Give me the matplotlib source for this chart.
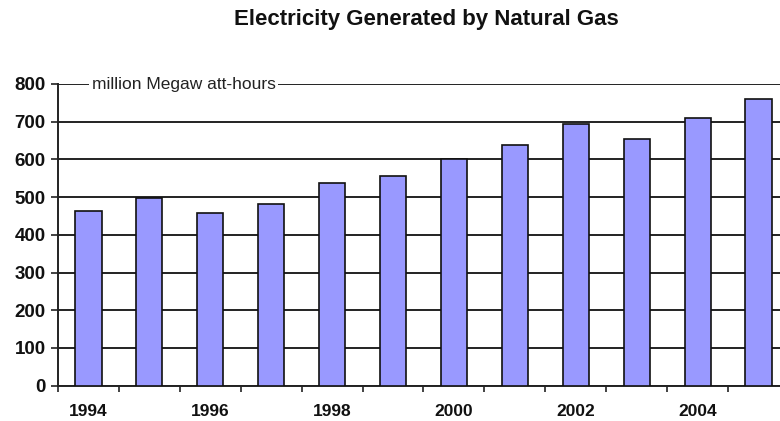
import matplotlib
matplotlib.use("Agg")
import matplotlib.pyplot as plt
import numpy as np

years = [1994, 1995, 1996, 1997, 1998, 1999, 2000, 2001, 2002, 2003, 2004, 2005]
values = [463, 498, 459, 481, 537, 556, 601, 639, 694, 654, 710, 761]
yticks = [0, 100, 200, 300, 400, 500, 600, 700, 800]
title = "Electricity Generated by Natural Gas"
unit_label = "million Megaw att-hours"

plt.rcParams['font.family'] = ['Liberation Sans', 'DejaVu Sans']

fig = plt.figure(figsize=(7.8, 4.21), dpi=100)
ax = fig.add_axes([58/780, 1-385.7/421, (789-58)/780, (385.7-84)/421])

x = np.arange(len(years))
ax.bar(x, values, width=0.43, color='#9999FF', edgecolor='#111111', linewidth=1.2, zorder=3)

ax.set_xlim(-0.5, len(years) - 0.5)
ax.set_ylim(0, 800)
ax.set_yticks(yticks)
ax.set_yticklabels([str(v) for v in yticks], fontsize=13.5, fontweight='bold', color='#111111')
ax.yaxis.grid(True, color='#222222', linewidth=1.4, zorder=0)
ax.set_axisbelow(True)

# x ticks at category boundaries, labels every other year at bar centers
ax.set_xticks(np.arange(len(years) + 1) - 0.5)
ax.set_xticklabels([])
ax.set_xticks(x[::2], minor=True)
ax.set_xticklabels([str(y) for y in years[::2]], minor=True, fontsize=12.5, fontweight='bold', color='#111111')
ax.tick_params(axis='x', which='major', direction='out', length=4, width=1.2, color='#222222')
ax.tick_params(axis='x', which='minor', length=0, pad=13)
ax.tick_params(axis='y', direction='out', length=5, width=1.2, color='#222222', pad=4)

for s in ['top', 'right']:
    ax.spines[s].set_visible(False)
for s in ['left', 'bottom']:
    ax.spines[s].set_color('#222222')
    ax.spines[s].set_linewidth(1.4)
ax.spines['left'].set_zorder(4)

ax.text(0.046, 800, unit_label, fontsize=12.5, color='#222222', ha='left', va='center',
        transform=ax.get_yaxis_transform(),
        bbox=dict(facecolor='white', edgecolor='none', pad=2), zorder=5)

fig.text(426/780, 1-20/421, title, fontsize=16, fontweight='bold', ha='center', va='center', color='#111111')

fig.savefig('out.png', dpi=100)
